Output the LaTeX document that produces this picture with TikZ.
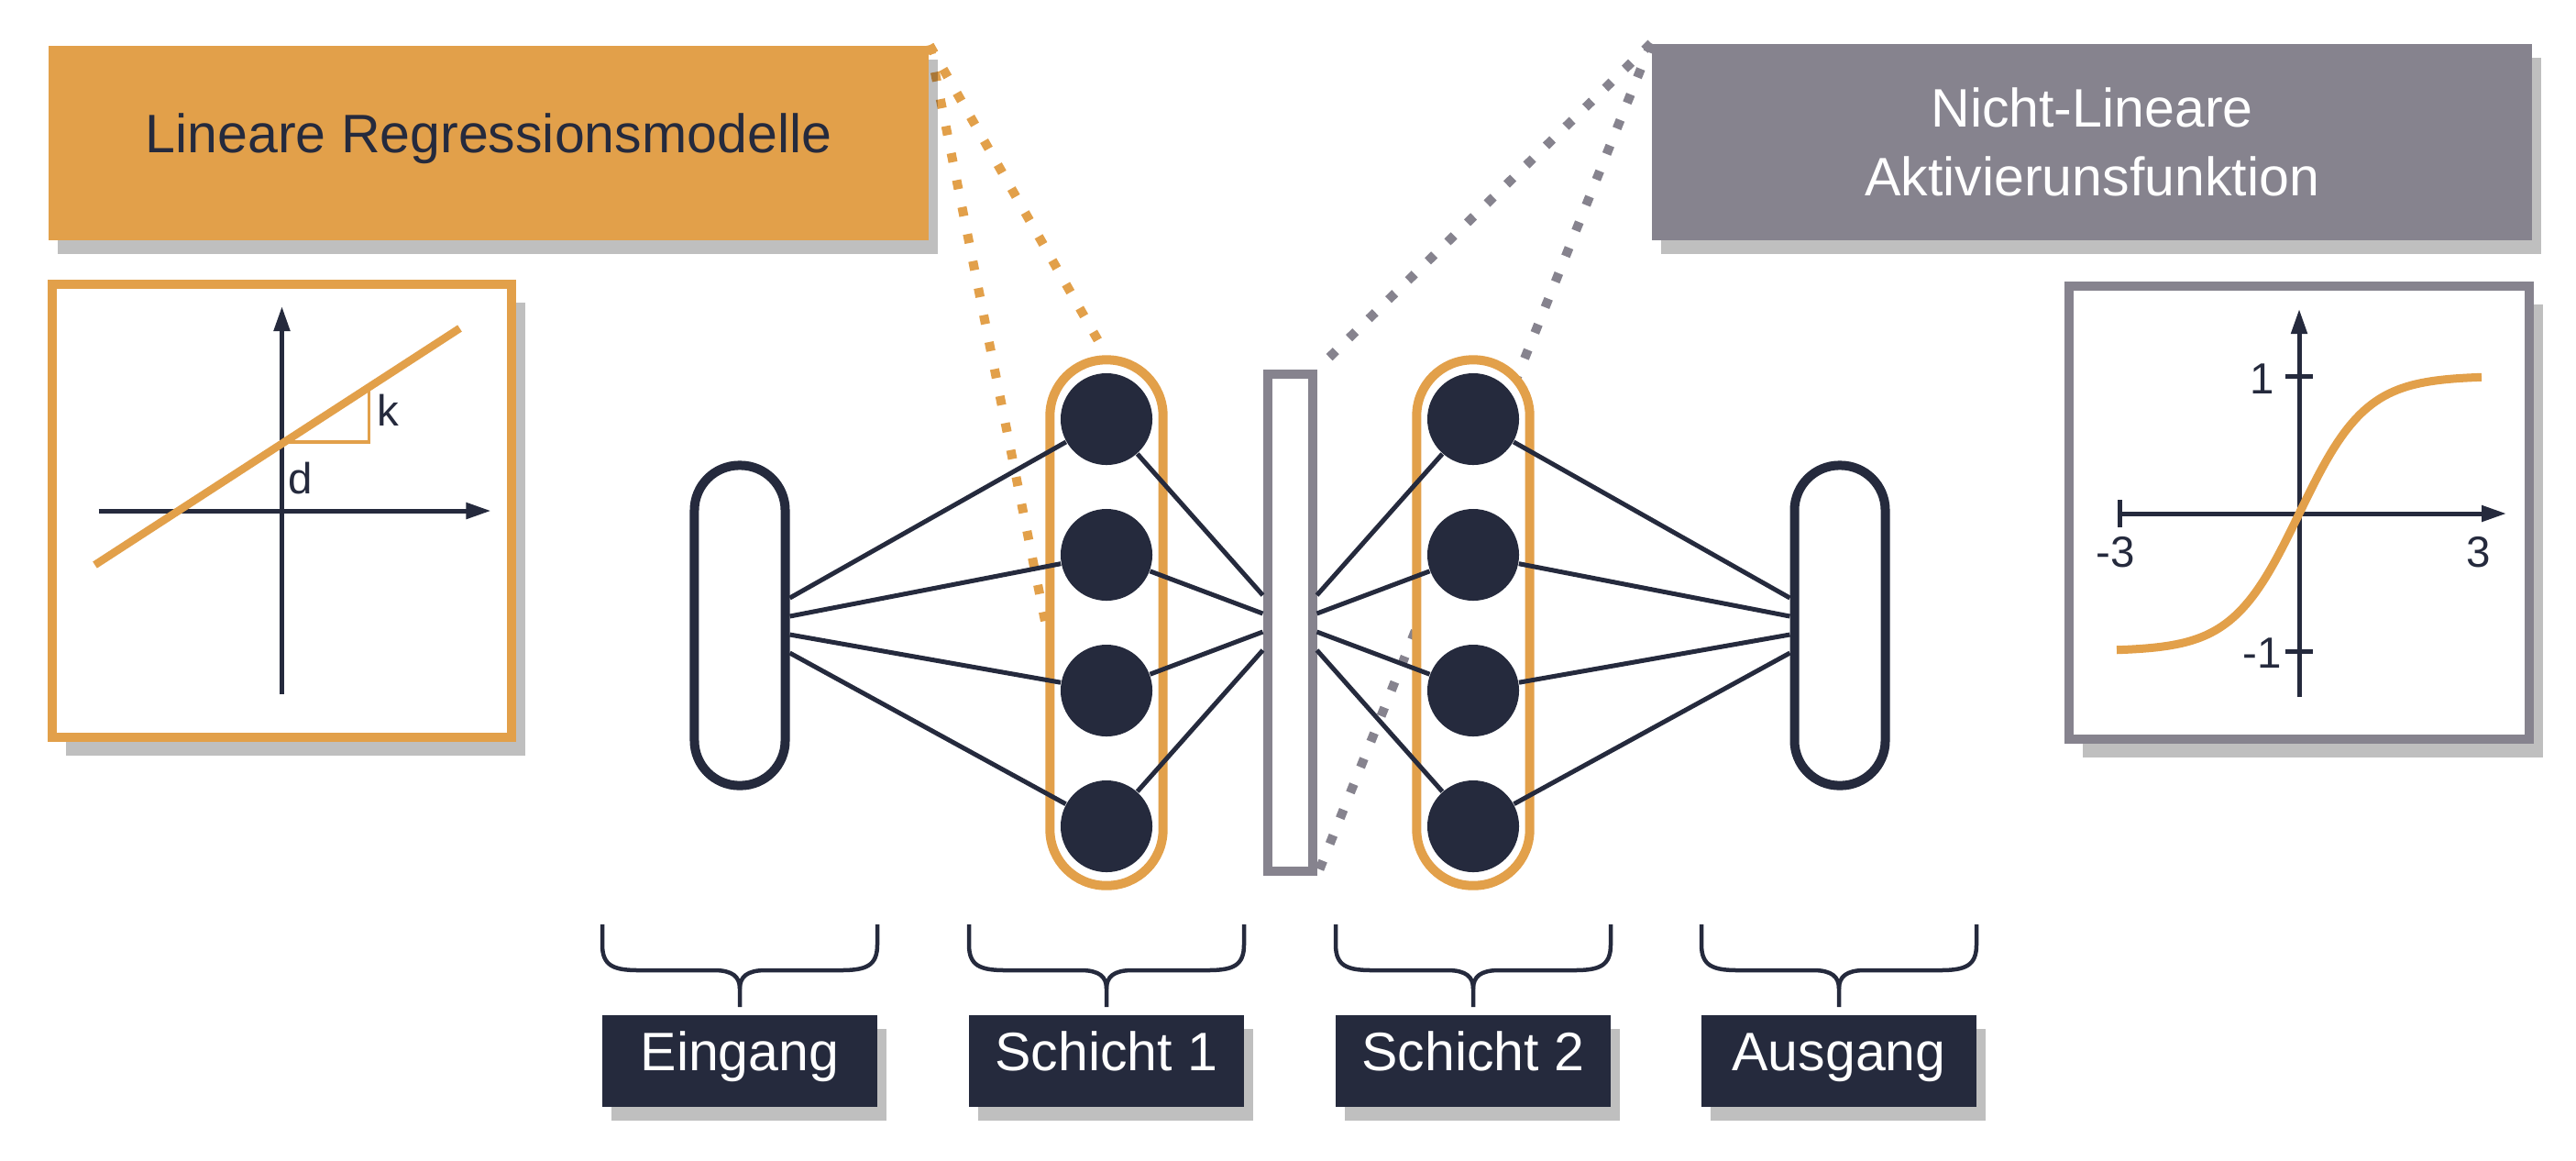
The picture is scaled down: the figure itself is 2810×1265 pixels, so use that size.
\documentclass[tikz,border=0pt]{standalone}
\usepackage{fontspec}
\setmainfont{Liberation Sans}
\usepackage{xcolor}
\definecolor{regorange}{RGB}{226,160,74}
\definecolor{netnavy}{RGB}{37,42,61}
\definecolor{actgray}{RGB}{134,131,142}
\usetikzlibrary{arrows.meta,positioning,calc,shadows}
\pgfdeclarelayer{background}
\pgfsetlayers{background,main}

\begin{document}
\begin{tikzpicture}[x=0.01cm, y=-0.01cm,
  bigfont/.style={font=\fontsize{16.8}{21.3}\selectfont},
  smallfont/.style={font=\fontsize{13.5}{16}\selectfont, text=netnavy},
  shadowed/.style={drop shadow={shadow xshift=0.1cm, shadow yshift=-0.15cm, fill=black, opacity=0.25}},
  titlebox/.style={shadowed, inner sep=0pt, minimum width=9.6cm, bigfont, align=center},
  plotbox/.style={draw, line width=1mm, fill=white, inner sep=0pt, minimum width=5.01cm, minimum height=4.94cm,
    drop shadow={shadow xshift=0.15cm, shadow yshift=-0.2cm, fill=black, opacity=0.25}},
  layerbox/.style={shadowed, fill=netnavy, text=white, inner sep=0pt, minimum width=3cm, minimum height=1cm,
    text height=0.72em, text depth=0.11em, bigfont},
  pill/.style={draw=netnavy, line width=1mm, fill=white, rounded corners=0.49cm, minimum width=0.99cm, minimum height=3.49cm, inner sep=0pt},
  layerpill/.style={draw=regorange, line width=1mm, fill=white, rounded corners=0.61cm, minimum width=1.233cm, minimum height=5.73cm, inner sep=0pt},
  neuron/.style={circle, fill=netnavy, minimum size=1cm, inner sep=0pt},
  conn/.style={netnavy, line width=0.5mm},
  axis/.style={netnavy, line width=0.5mm, -{Triangle[length=2.7mm, width=1.7mm]}},
  dots/.style={line width=1mm, dash pattern=on 1mm off 2mm},
  bracestyle/.style={netnavy, line width=0.45mm},
]
  \useasboundingbox (0,0) rectangle (2810,1265);

  %--- Title boxes ---
  \node[titlebox, fill=regorange, text=netnavy, minimum height=2.12cm, text height=0.72em, text depth=0.11em] (linreg) at (533,156) {Lineare Regressionsmodelle};
  \node[titlebox, fill=actgray, text=white, minimum height=2.14cm] (actfn) at (2282,155) {Nicht-Lineare\\Aktivierunsfunktion};

  %--- Linear model plot ---
  \node[plotbox, draw=regorange] (lplot) at (307.5,557) {};
  \begin{scope}[shift={(lplot.center)}]
    \draw[axis] (-200,0) -- (228,0);
    \draw[axis] (0,200) -- (0,-223);
    \draw[regorange, line width=0.85mm] (-204,59) -- (194,-199);
    \draw[regorange, line width=0.35mm] (2,-75) -- (95,-75) -- (95,-134);
    \node[smallfont] (slk) at (116,-110) {k};
    \node[smallfont] (sld) at (20,-35) {d};
  \end{scope}

  %--- Activation plot ---
  \node[plotbox, draw=actgray] (rplot) at (2508,559) {};
  \begin{scope}[shift={(2508,560)}]
    \draw[axis, {Bar[width=3mm]}-{Triangle[length=2.7mm, width=1.7mm]}] (-198,0) -- (226,0);
    \draw[axis] (0,200) -- (0,-223);
    \draw[netnavy, line width=0.5mm] (-15,-150) -- (15,-150);
    \draw[netnavy, line width=0.5mm] (-15,150) -- (15,150);
    \node[smallfont] (ty1) at (-40,-147) {1};
    \node[smallfont] (tym) at (-40,152) {-1};
    \node[smallfont] (txm) at (-200,42) {-3};
    \node[smallfont] (tx3) at (196,42) {3};
    \draw[regorange, line width=0.9mm] plot[domain=-199:199, samples=80, smooth] (\x, {-150*tanh(0.0137*\x)});
  \end{scope}

  %--- Network ---
  \node[pill] (inp) at (807,682) {};
  \node[layerpill] (l1) at (1207,679) {};
  \node[draw=actgray, line width=1mm, fill=white, minimum width=0.49cm, minimum height=5.42cm, inner sep=0pt] (act) at (1407,679) {};
  \node[layerpill] (l2) at (1607,679) {};
  \node[pill] (outp) at (2007,682) {};
  \foreach \i/\y in {1/457,2/605,3/753,4/901} {
    \node[neuron] (n1\i) at (1207,\y) {};
    \node[neuron] (n2\i) at (1607,\y) {};
  }

  % Connections
  \foreach \i/\o in {1/-30,2/-10,3/10,4/30} {
    \draw[conn] ($(inp.east)+(0,\o)$) -- (n1\i);
    \draw[conn] (n1\i) -- ($(act.west)+(0,\o)$);
    \draw[conn] ($(act.east)+(0,\o)$) -- (n2\i);
    \draw[conn] (n2\i) -- ($(outp.west)+(0,\o)$);
  }

  % Dotted zoom lines
  \begin{pgfonlayer}{background}
    \draw[dots, regorange] (linreg.north east) -- (l1.north);
    \draw[dots, regorange] (linreg.north east) -- (l1.west);
    \draw[dots, actgray] (actfn.north west) -- (act.north east);
    \draw[dots, actgray] (actfn.north west) -- (act.south east);
  \end{pgfonlayer}

  %--- Layer labels ---
  \node[layerbox] (lbin) at (807,1157) {Eingang};
  \node[layerbox] (lbl1) at (1207,1157) {Schicht 1};
  \node[layerbox] (lbl2) at (1607,1157) {Schicht 2};
  \node[layerbox] (lbout) at (2006,1157) {Ausgang};
  \foreach \cx in {807,1207,1607,2006} {
    \draw[bracestyle] (\cx-150,1008) -- (\cx-150,1030) .. controls (\cx-150,1053) and (\cx-138,1058) .. (\cx-110,1058)
      -- (\cx-28,1058) .. controls (\cx-8,1058) and (\cx,1065) .. (\cx,1078) -- (\cx,1098);
    \draw[bracestyle] (\cx+150,1008) -- (\cx+150,1030) .. controls (\cx+150,1053) and (\cx+138,1058) .. (\cx+110,1058)
      -- (\cx+28,1058) .. controls (\cx+8,1058) and (\cx,1065) .. (\cx,1078);
  }
\end{tikzpicture}
\end{document}
